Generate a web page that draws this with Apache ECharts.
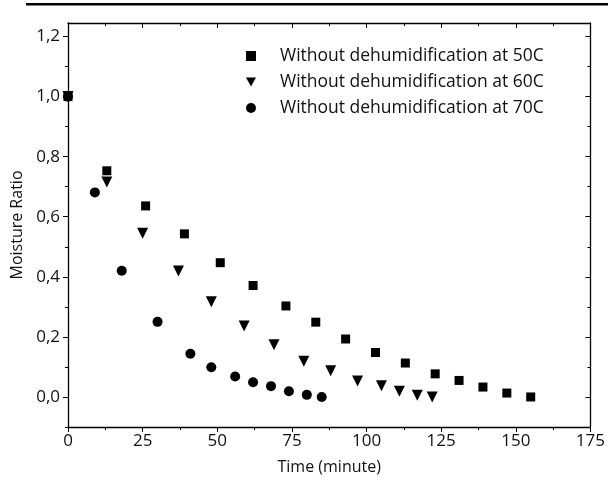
<!DOCTYPE html>
<html><head><meta charset="utf-8">
<script src="https://cdn.jsdelivr.net/npm/echarts@6/dist/echarts.min.js"></script>
<style>html,body{margin:0;padding:0;background:#fff}#c{width:608px;height:486px}</style>
</head><body><div id="c"></div>
<script>
const seriesNames = ['Without dehumidification at 50C','Without dehumidification at 60C','Without dehumidification at 70C'];
const time50 = [0,13,26,39,51,62,73,83,93,103,113,123,131,139,147,155];
const mr50   = [1.0,0.753,0.636,0.543,0.447,0.371,0.303,0.249,0.193,0.148,0.113,0.077,0.055,0.033,0.013,0.0];
const time60 = [0,13,25,37,48,59,69,79,88,97,105,111,117,122];
const mr60   = [1.0,0.716,0.545,0.419,0.317,0.236,0.174,0.119,0.087,0.053,0.037,0.019,0.006,0.0];
const time70 = [0,9,18,30,41,48,56,62,68,74,80,85];
const mr70   = [1.0,0.681,0.42,0.25,0.144,0.099,0.068,0.049,0.036,0.019,0.007,0.0];
const yMajor = [0,0.2,0.4,0.6,0.8,1.0,1.2];
const yMinor = [-0.1,0.1,0.3,0.5,0.7,0.9,1.1];
const xMajor = [0,25,50,75,100,125,150,175];
const xMinor = [12.5,37.5,62.5,87.5,112.5,137.5,162.5];

const F = '"Open Sans", "Noto Sans", sans-serif';
const pair = (xs, ys) => xs.map((x,i)=>[x, ys[i]]);
const yFmt = v => v.toFixed(1).replace('.', ',');
const downTri = 'path://M0,0L10,0L5,9Z';

function yAx(pos, ticks, len, inside, showLine, opts){
  return Object.assign({
    type:'value', min:-0.1, max:1.245, position:pos,
    axisLine:{show:showLine, onZero:false, lineStyle:{color:'#000', width:1.3}},
    axisTick:{show:true, customValues:ticks, length:len, inside:inside, lineStyle:{color:'#000', width:1}},
    axisLabel:{show:false}, splitLine:{show:false}
  }, opts||{});
}
function xAx(pos, ticks, len, inside, showLine, opts){
  return Object.assign({
    type:'value', min:0, max:175, position:pos,
    axisLine:{show:showLine, onZero:false, lineStyle:{color:'#000', width:1.3}},
    axisTick:{show:true, customValues:ticks, length:len, inside:inside, lineStyle:{color:'#000', width:1}},
    axisLabel:{show:false}, splitLine:{show:false}
  }, opts||{});
}

const chart = echarts.init(document.getElementById('c'), null, {renderer:'canvas'});
chart.setOption({
  backgroundColor:'#fff',
  animation:false,
  textStyle:{fontFamily:F},
  graphic:[{type:'rect', shape:{x:26, y:3, width:582, height:2.5}, style:{fill:'#000'}}],
  grid:{left:68, right:17, top:23, bottom:59, containLabel:false},
  legend:{
    orient:'vertical', left:246, top:46, padding:0, itemGap:6, itemWidth:10, itemHeight:10,
    textStyle:{fontFamily:F, fontSize:17.5, lineHeight:20, color:'#111', padding:[0,0,0,19]},
    data:[
      {name:seriesNames[0], icon:'rect'},
      {name:seriesNames[1], icon:downTri},
      {name:seriesNames[2], icon:'circle'}
    ]
  },
  xAxis:[
    xAx('bottom', xMajor, 5, false, true, {
      name:'Time (minute)', nameLocation:'middle', nameGap:32,
      nameTextStyle:{fontFamily:F, fontSize:16, color:'#111'},
      axisLabel:{show:true, customValues:xMajor, fontFamily:F, fontSize:17, color:'#111', margin:6}
    }),
    xAx('bottom', xMinor, 3, false, false),
    xAx('top', xMajor, 5, true, true),
    xAx('top', xMinor, 3, true, false)
  ],
  yAxis:[
    yAx('left', yMajor, 5, false, true, {
      name:'Moisture Ratio', nameLocation:'middle', nameGap:42,
      nameTextStyle:{fontFamily:F, fontSize:16, color:'#111'},
      axisLabel:{show:true, customValues:yMajor, formatter:yFmt, fontFamily:F, fontSize:17, color:'#111', margin:8}
    }),
    yAx('left', yMinor, 3, false, false),
    yAx('right', yMajor, 5, true, true),
    yAx('right', yMinor, 3, true, false)
  ],
  series:[
    {name:seriesNames[0], type:'scatter', symbol:'rect', symbolSize:9, data:pair(time50, mr50),
     itemStyle:{color:'#000', opacity:1}, xAxisIndex:0, yAxisIndex:0},
    {name:seriesNames[1], type:'scatter', symbol:'triangle', symbolRotate:180, symbolSize:11, data:pair(time60, mr60),
     itemStyle:{color:'#000', opacity:1}, xAxisIndex:0, yAxisIndex:0},
    {name:seriesNames[2], type:'scatter', symbol:'circle', symbolSize:10, data:pair(time70, mr70),
     itemStyle:{color:'#000', opacity:1}, xAxisIndex:0, yAxisIndex:0}
  ]
});
</script></body></html>
